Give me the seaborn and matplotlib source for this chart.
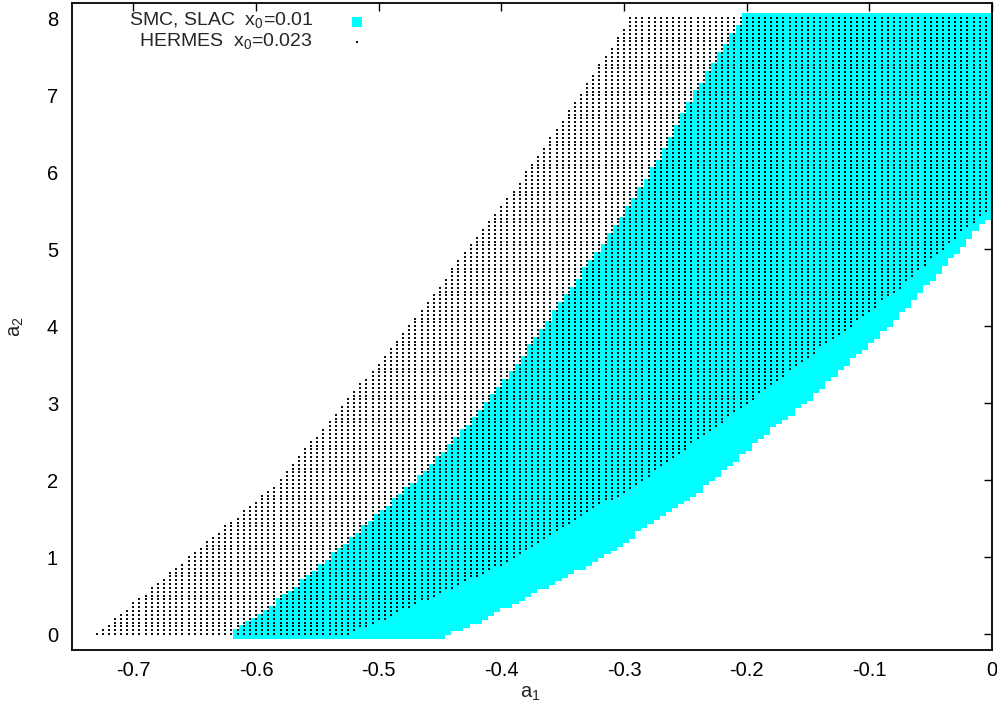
import numpy as np
import pandas as pd
import matplotlib
matplotlib.use("Agg")
import matplotlib.pyplot as plt
import seaborn as sns

# ---- data: region boundaries (a1 as a function of a2) ----
smc_left_a2 = [0, 0.5, 1, 1.5, 2, 2.5, 3, 3.5, 4, 4.5, 5, 5.5, 6, 6.5, 7, 7.5, 8]
smc_left_a1 = [-0.615, -0.572, -0.535, -0.500, -0.465, -0.436, -0.408, -0.384,
               -0.362, -0.339, -0.317, -0.295, -0.275, -0.258, -0.240, -0.220, -0.200]
smc_right_a2 = [0, 0.2, 0.5, 1, 1.5, 2, 2.5, 3, 3.5, 4, 4.5, 5, 5.5, 6]
smc_right_a1 = [-0.450, -0.418, -0.383, -0.323, -0.276, -0.231, -0.196, -0.157,
                -0.122, -0.088, -0.058, -0.030, -0.002, 0.025]

hermes_left_a2 = [0, 0.5, 1, 1.5, 2, 2.5, 3, 3.5, 4, 4.5, 5, 5.5, 6, 6.5, 7, 7.5, 8]
hermes_left_a1 = [-0.730, -0.693, -0.655, -0.618, -0.580, -0.555, -0.529, -0.501,
                  -0.476, -0.452, -0.428, -0.404, -0.380, -0.358, -0.337, -0.316, -0.295]
hermes_right_a2 = [0, 0.5, 1, 1.5, 2, 2.5, 3, 3.5, 4, 4.5, 5, 5.5, 6]
hermes_right_a1 = [-0.523, -0.452, -0.387, -0.336, -0.284, -0.241, -0.199, -0.157,
                   -0.115, -0.075, -0.040, -0.004, 0.030]

a1_step = 0.005
a2_step = 0.05
a2_max = 8.0

xticks = [-0.7, -0.6, -0.5, -0.4, -0.3, -0.2, -0.1, 0.0]
xtick_labels = ["-0.7", "-0.6", "-0.5", "-0.4", "-0.3", "-0.2", "-0.1", "0"]
yticks = [0, 1, 2, 3, 4, 5, 6, 7, 8]
ytick_labels = ["0", "1", "2", "3", "4", "5", "6", "7", "8"]

label_smc = "SMC, SLAC  x$_\\mathregular{0}$=0.01"
label_hermes = "HERMES  x$_\\mathregular{0}$=0.023"


def scan_region(yl, xl, yr, xr):
    ys = np.round(np.arange(0, a2_max + 1e-9, a2_step), 4)
    xs = np.round(np.arange(-0.75, 1e-9, a1_step), 4)
    X, Y = np.meshgrid(xs, ys)
    L = np.interp(Y, yl, xl)
    R = np.interp(Y, yr, xr)
    m = (X >= L - 1e-9) & (X <= R + 1e-9) & (X <= 1e-9)
    return pd.DataFrame({"a1": X[m], "a2": Y[m]})


smc = scan_region(smc_left_a2, smc_left_a1, smc_right_a2, smc_right_a1)
hermes = scan_region(hermes_left_a2, hermes_left_a1, hermes_right_a2, hermes_right_a1)

sns.set_style("white")
plt.rcParams["font.family"] = ["Liberation Sans", "DejaVu Sans"]
plt.rcParams["mathtext.fontset"] = "custom"
plt.rcParams["mathtext.rm"] = "Liberation Sans"

FS = 14.5
LEG_FS = 14
dot_marker = [(-1, -0.55), (1, -0.55), (1, 0.55), (-1, 0.55)]
dot_size = 2.2
dot_color = "#111111"

fig = plt.figure(figsize=(9.97, 7.15), dpi=100)
ax = fig.add_axes([0.0722, 0.0916, 0.9228, 0.9042])

sns.scatterplot(data=smc, x="a1", y="a2", marker="s", s=57, color="#00ffff",
                linewidth=0, ax=ax, legend=False)
sns.scatterplot(data=hermes, x="a1", y="a2", marker=dot_marker, s=dot_size, color=dot_color,
                linewidth=0, ax=ax, legend=False)

ax.set_xlim(-0.75, 0.0)
ax.set_ylim(-0.2, 8.2)
ax.set_xticks(xticks)
ax.set_xticklabels(xtick_labels)
ax.set_yticks(yticks)
ax.set_yticklabels(ytick_labels)
ax.tick_params(axis="both", direction="in", length=6, width=1.0, color="black",
               top=True, right=True, labelsize=FS, colors="black")
ax.tick_params(axis="x", pad=8)
ax.tick_params(axis="y", pad=10)
for sp in ax.spines.values():
    sp.set_visible(True)
    sp.set_color("black")
    sp.set_linewidth(1.3)

ax.set_xlabel("a$_\\mathregular{1}$", fontsize=FS)
ax.set_ylabel("a$_\\mathregular{2}$", fontsize=FS)
ax.xaxis.set_label_coords(0.498, -0.053)
ax.yaxis.set_label_coords(-0.05, 0.5)

# legend (gnuplot style: right-aligned text, sample to the right)
ax.text(0.262, 0.9655, label_smc, transform=ax.transAxes, ha="right", va="baseline", fontsize=LEG_FS)
ax.text(0.262, 0.9325, label_hermes, transform=ax.transAxes, ha="right", va="baseline", fontsize=LEG_FS)
ax.scatter([0.3098], [0.9706], transform=ax.transAxes, marker="s", s=42,
           color="#00ffff", linewidths=0, clip_on=False)
ax.scatter([0.3098], [0.9397], transform=ax.transAxes, marker=dot_marker, s=dot_size,
           color=dot_color, linewidths=0, clip_on=False)

fig.savefig("out.png", dpi=100)
